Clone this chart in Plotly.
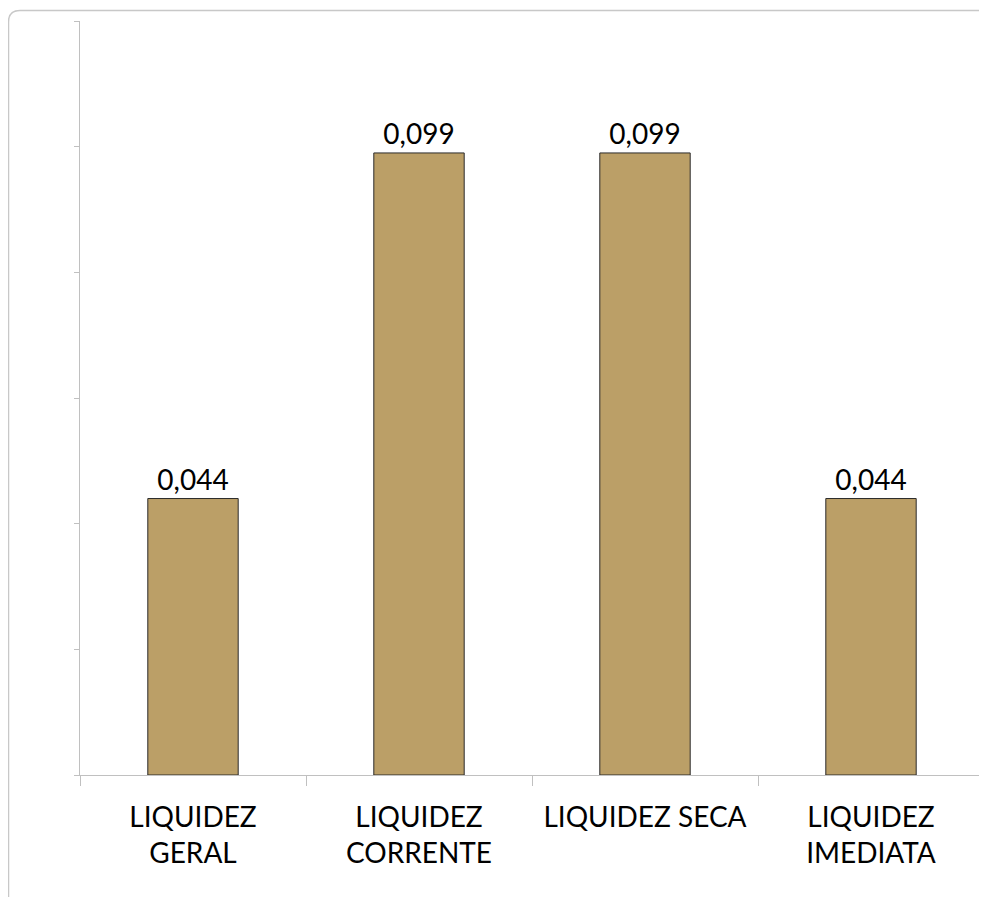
import plotly.graph_objects as go

categorias = ["LIQUIDEZ<br>GERAL", "LIQUIDEZ<br>CORRENTE", "LIQUIDEZ SECA", "LIQUIDEZ<br>IMEDIATA"]
valores = [0.044, 0.099, 0.099, 0.044]

# page body adds 8px margin, so the figure is a bit smaller than the window
W, H = 979, 889
ML, MR, MT, MB = 72, 3, 13, 122
pw, ph = W - ML - MR, H - MT - MB


def px_to_paper(x, y):
  return (x - ML) / pw, (H - MB - y) / ph


fig = go.Figure(go.Bar(
  x=categorias,
  y=valores,
  marker=dict(color='rgb(187,159,103)', line=dict(color='#2b2b2b', width=1)),
  texttemplate='%{y:.3f}',
  textposition='outside',
  textfont=dict(size=28, color='black', family='Lato'),
  cliponaxis=False
))

# rounded outer frame
x0, y0 = px_to_paper(0.5, 2.5)
x1, y1 = px_to_paper(12, 14)
xe, _ = px_to_paper(1000, 0)
_, ye = px_to_paper(0, 910)
frame = f"M {x0},{ye} L {x0},{y1} Q {x0},{y0} {x1},{y0} L {xe},{y0}"

fig.update_layout(
  width=W, height=H,
  margin=dict(l=ML, r=MR, t=MT, b=MB),
  paper_bgcolor='white', plot_bgcolor='white',
  separators=',.',
  showlegend=False,
  bargap=0.6,
  font=dict(family='Lato', color='black'),
  shapes=[dict(type='path', path=frame, xref='paper', yref='paper',
               line=dict(color='#c8c8c8', width=1.5))]
)
fig.update_xaxes(
  type='category', tickson='boundaries', ticks='outside', ticklen=10,
  tickcolor='#c0c0c0', showline=True, linecolor='#c0c0c0', linewidth=1,
  tickfont=dict(size=28, family='Lato', color='black'), showgrid=False,
  ticklabelstandoff=17
)
fig.update_yaxes(
  range=[0, 0.12], dtick=0.02, ticks='outside', ticklen=5, tickcolor='#c0c0c0',
  showline=True, linecolor='#c0c0c0', linewidth=1, showticklabels=False,
  showgrid=False, zeroline=False
)

fig.write_html("out.html")
